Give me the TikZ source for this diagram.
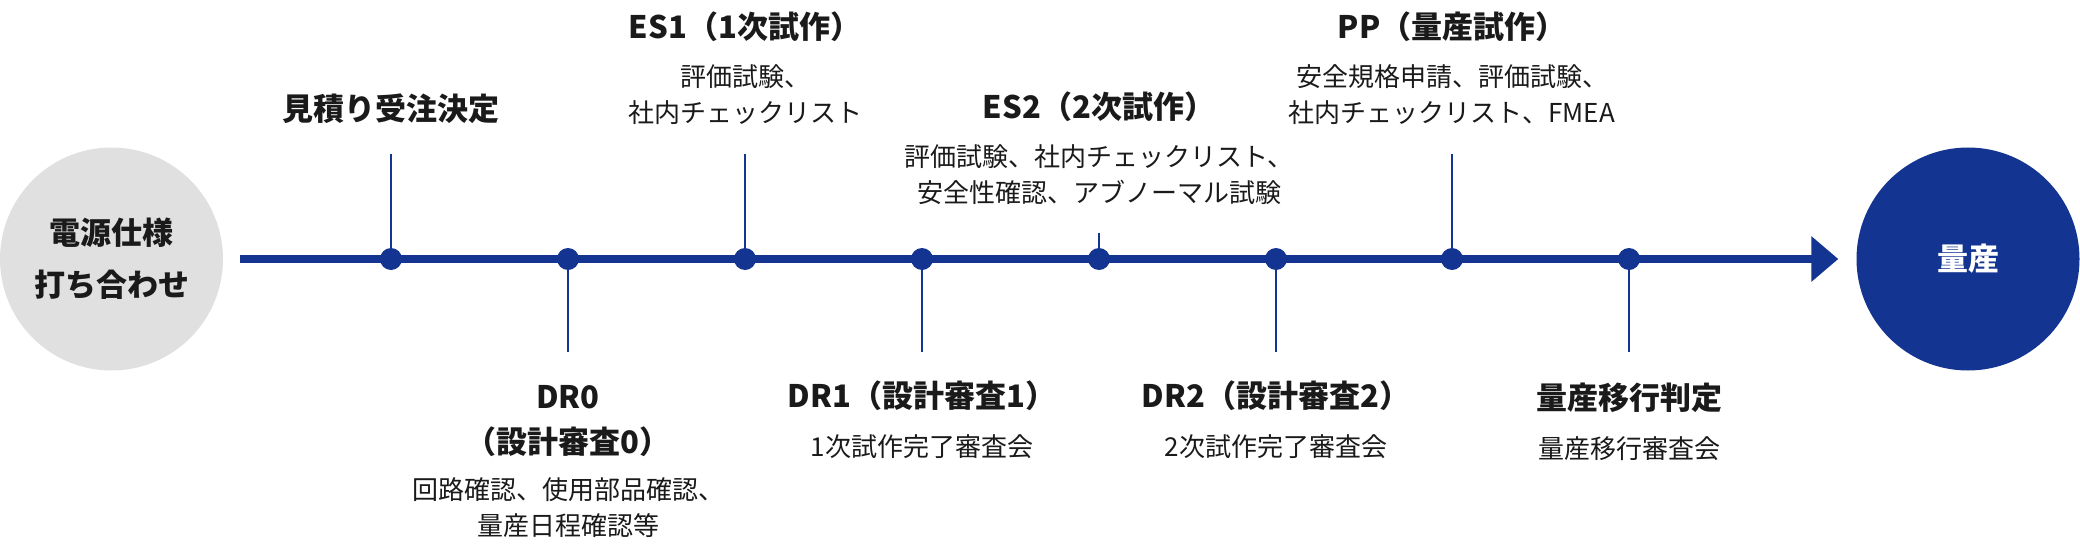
\documentclass[tikz,border=0pt]{standalone}
\usepackage{fontspec}
\setmainfont{Noto Sans CJK JP}
\usepackage{tikz}
\usetikzlibrary{positioning,arrows.meta}
\definecolor{flowblue}{RGB}{20,52,145}
\definecolor{startgray}{RGB}{224,224,224}
\definecolor{inkblack}{RGB}{26,26,26}

\begin{document}
\begin{tikzpicture}[
  x=1pt, y=-1pt,
  ttl/.style={inner sep=0pt, align=center, text=inkblack,
              font=\bfseries\fontsize{31}{45}\selectfont},
  det/.style={inner sep=0pt, align=center, text=inkblack,
              font=\fontsize{26}{36}\selectfont},
  mdot/.style={circle, fill=flowblue, minimum size=22pt, inner sep=0pt},
  tick/.style={flowblue, line width=2pt},
  axis/.style={flowblue, line width=8pt, -{Triangle[length=27pt,width=44pt]}},
  goal/.style={circle, minimum size=223pt, inner sep=0pt, align=center,
               font=\bfseries\fontsize{31}{52}\selectfont}
]
\useasboundingbox (0,0) rectangle (2080,546);
\node[goal, fill=startgray, text=inkblack] (spec) at (111.5,259) {電源仕様\\打ち合わせ};
\node[goal, fill=flowblue, text=white] (mp) at (1968,259) {量産};
\draw[axis, shorten <=17pt, shorten >=18pt] (spec) -- (mp);
\foreach \m/\x/\len in {m1/391/-105, m2/568/93, m3/745/-105, m4/922/93,
                         m5/1099/-26, m6/1276/93, m7/1452/-105, m8/1629/93} {
  \node[mdot] (\m) at (\x,259) {};
  \path (\m) ++(0,\len) coordinate (\m e);
  \draw[tick] (\m) -- (\m e);
}
\node[ttl, above=30pt of m1e] (t1) {見積り受注決定};
\node[det, above=29pt of m3e] (d3) {評価試験、\\社内チェックリスト};
\node[ttl, above=23pt of d3] (t3) {ES1（1次試作）};
\node[det, above=28pt of m5e] (d5) {評価試験、社内チェックリスト、\\安全性確認、アブノーマル試験};
\node[ttl, above=23pt of d5] (t5) {ES2（2次試作）};
\node[det, above=29pt of m7e] (d7) {安全規格申請、評価試験、\\社内チェックリスト、FMEA};
\node[ttl, above=23pt of d7] (t7) {PP（量産試作）};
\node[ttl, below=33pt of m2e] (t2) {DR0\\（設計審査0）};
\node[det, below=21pt of t2] (d2) {回路確認、使用部品確認、\\量産日程確認等};
\node[ttl, below=29pt of m4e] (t4) {DR1（設計審査1）};
\node[det, below=23pt of t4] (d4) {1次試作完了審査会};
\node[ttl, below=29pt of m6e] (t6) {DR2（設計審査2）};
\node[det, below=23pt of t6] (d6) {2次試作完了審査会};
\node[ttl, below=31pt of m8e] (t8) {量産移行判定};
\node[det, below=23pt of t8] (d8) {量産移行審査会};
\end{tikzpicture}
\end{document}
